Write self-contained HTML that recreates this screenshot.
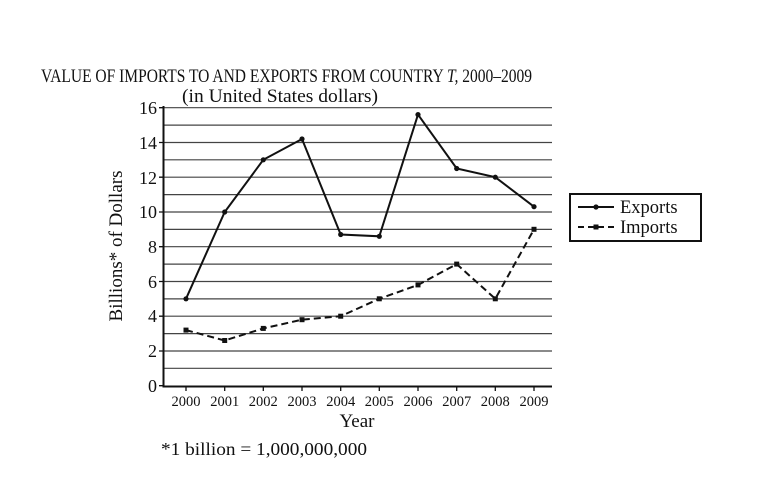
<!DOCTYPE html>
<html><head><meta charset="utf-8"><style>body{margin:0;background:#fff}svg{display:block}text{font-family:"Liberation Serif",serif;fill:#111}</style></head><body>
<svg width="759" height="500" viewBox="0 0 759 500" xmlns="http://www.w3.org/2000/svg">
<text x="41" y="82" font-size="18.5" textLength="491" lengthAdjust="spacingAndGlyphs">VALUE OF IMPORTS TO AND EXPORTS FROM COUNTRY <tspan font-style="italic">T,</tspan> 2000–2009</text>
<text x="182" y="102" font-size="18.5" textLength="196" lengthAdjust="spacingAndGlyphs">(in United States dollars)</text>
<path stroke="#444" stroke-width="1.2" fill="none" d="M163 107.7H552M163 125.1H552M163 142.5H552M163 159.8H552M163 177.2H552M163 194.6H552M163 212H552M163 229.4H552M163 246.7H552M163 264.1H552M163 281.5H552M163 298.9H552M163 316.2H552M163 333.6H552M163 351H552M163 368.3H552"/>
<path stroke="#111" stroke-width="2" fill="none" d="M163.5 106V386.5H552"/>
<path stroke="#111" stroke-width="1.3" d="M159 107.7H163M159 142.5H163M159 177.2H163M159 212H163M159 246.7H163M159 281.5H163M159 316.2H163M159 351H163M159 385.7H163M186 386v5M224.7 386v5M263.3 386v5M302 386v5M340.7 386v5M379.3 386v5M418 386v5M456.7 386v5M495.3 386v5M534 386v5"/>
<g font-size="18" text-anchor="end">
<text x="157" y="114">16</text><text x="157" y="149">14</text><text x="157" y="184">12</text><text x="157" y="218">10</text><text x="157" y="253">8</text><text x="157" y="288">6</text><text x="157" y="322">4</text><text x="157" y="357">2</text><text x="157" y="392">0</text>
</g>
<g font-size="14.5" text-anchor="middle">
<text x="186" y="406">2000</text><text x="224.7" y="406">2001</text><text x="263.3" y="406">2002</text><text x="302" y="406">2003</text><text x="340.7" y="406">2004</text><text x="379.3" y="406">2005</text><text x="418" y="406">2006</text><text x="456.7" y="406">2007</text><text x="495.3" y="406">2008</text><text x="534" y="406">2009</text>
</g>
<text x="357" y="427" font-size="19" text-anchor="middle">Year</text>
<text transform="translate(122 246) rotate(-90)" font-size="19" text-anchor="middle">Billions* of Dollars</text>
<text x="161" y="455" font-size="18" textLength="206" lengthAdjust="spacingAndGlyphs">*1 billion = 1,000,000,000</text>
<polyline fill="none" stroke="#111" stroke-width="2" points="186,298.8 224.7,212 263.3,159.8 302,139 340.7,234.5 379.3,236.3 418,114.6 456.7,168.5 495.3,177.2 534,206.7"/>
<g fill="#111"><circle cx="186" cy="298.8" r="2.6"/><circle cx="224.7" cy="212" r="2.6"/><circle cx="263.3" cy="159.8" r="2.6"/><circle cx="302" cy="139" r="2.6"/><circle cx="340.7" cy="234.5" r="2.6"/><circle cx="379.3" cy="236.3" r="2.6"/><circle cx="418" cy="114.6" r="2.6"/><circle cx="456.7" cy="168.5" r="2.6"/><circle cx="495.3" cy="177.2" r="2.6"/><circle cx="534" cy="206.7" r="2.6"/></g>
<polyline fill="none" stroke="#111" stroke-width="2" stroke-dasharray="7,4" points="186,330.1 224.7,340.5 263.3,328.4 302,319.7 340.7,316.2 379.3,298.8 418,284.9 456.7,264.1 495.3,298.8 534,229.3"/>
<g fill="#111"><rect x="183.5" y="327.6" width="5" height="5"/><rect x="222.2" y="338" width="5" height="5"/><rect x="260.8" y="325.9" width="5" height="5"/><rect x="299.5" y="317.2" width="5" height="5"/><rect x="338.2" y="313.7" width="5" height="5"/><rect x="376.8" y="296.3" width="5" height="5"/><rect x="415.5" y="282.4" width="5" height="5"/><rect x="454.2" y="261.6" width="5" height="5"/><rect x="492.8" y="296.3" width="5" height="5"/><rect x="531.5" y="226.8" width="5" height="5"/></g>
<rect x="570" y="194" width="131" height="47" fill="#fff" stroke="#111" stroke-width="2"/>
<path d="M578 207H614" stroke="#111" stroke-width="2"/><circle cx="596" cy="207" r="2.6" fill="#111"/>
<path d="M578 227H614" stroke="#111" stroke-width="2" stroke-dasharray="6,4"/><rect x="593.5" y="224.5" width="5" height="5" fill="#111"/>
<text x="620" y="213" font-size="18.5">Exports</text>
<text x="620" y="233" font-size="18.5">Imports</text>
</svg>
</body></html>
